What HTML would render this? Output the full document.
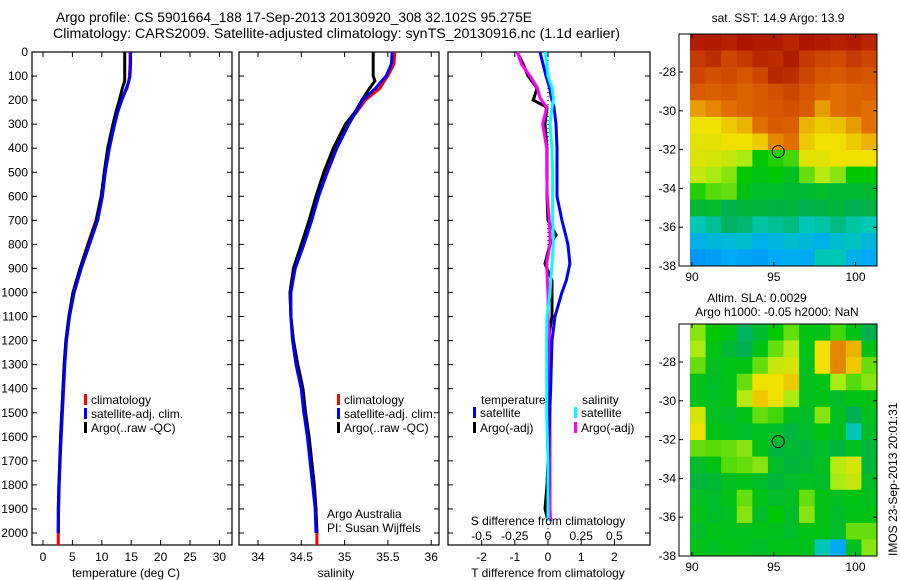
<!DOCTYPE html>
<html><head><meta charset="utf-8"><style>
html,body{margin:0;padding:0;background:#fff;}
svg{display:block;font-family:"Liberation Sans",Arial,sans-serif;}
text{font-size:12px;fill:#000;}
text.title{font-size:14px;}
</style></head><body>
<svg id="fig" width="900" height="580" viewBox="0 0 900 580" xmlns="http://www.w3.org/2000/svg">
<text class="title" x="56" y="22" textLength="476" lengthAdjust="spacingAndGlyphs">Argo profile: CS 5901664_188 17-Sep-2013 20130920_308 32.102S 95.275E</text>
<text class="title" x="53" y="38" textLength="567" lengthAdjust="spacingAndGlyphs">Climatology: CARS2009. Satellite-adjusted climatology: synTS_20130916.nc (1.1d earlier)</text>
<g id="g1"></g>
<g id="g2"></g>
<g id="g3"></g>
<g id="g4"></g>
<g id="g5"></g>
<text transform="translate(897,556) rotate(-90)">IMOS 23-Sep-2013 20:01:31</text>
</svg>
<script>
// ---- data ----
const depthTicks=[0,100,200,300,400,500,600,700,800,900,1000,1100,1200,1300,1400,1500,1600,1700,1800,1900,2000];
const tempTicks=[0,5,10,15,20,25,30];
const salTicks=[34,34.5,35,35.5,36];
const tdiffTicks=[-2,-1,0,1,2];
const sdiffTicks=[-0.5,-0.25,0,0.25,0.5];
const sdiffLabels=["-0.5","-0.25","0","0.25","0.5"];
const depths=[0,50,100,120,150,200,250,300,400,500,600,700,800,900,1000,1100,1200,1300,1400,1500,1600,1700,1800,1900,2000];
const tempArgo=[13.9,13.9,13.9,13.9,13.5,13.0,12.4,11.9,11.0,10.4,9.9,9.1,7.7,6.3,5.1,4.4,3.9,3.6,3.4,3.2,3.0,2.85,2.7,2.6,2.6];
const tempClim=[14.8,14.8,14.7,14.6,14.3,13.3,12.5,12.0,11.1,10.5,9.9,9.0,7.6,6.3,5.1,4.4,3.9,3.6,3.4,3.2,3.0,2.85,2.7,2.6,2.6];
const tempSat=[14.9,14.9,14.8,14.6,14.2,13.4,12.7,12.2,11.3,10.6,10.1,9.3,7.9,6.5,5.3,4.5,4.0,3.7,3.5,3.3,3.1,2.9,2.75,2.65,2.6];
const salArgo=[35.33,35.33,35.33,35.35,35.29,35.2,35.12,35.01,34.87,34.76,34.67,34.59,34.5,34.41,34.37,34.38,34.41,34.46,34.52,34.55,34.59,34.62,34.65,34.67,34.68];
const salClim=[35.58,35.57,35.5,35.46,35.41,35.24,35.14,35.03,34.89,34.77,34.68,34.6,34.51,34.41,34.37,34.38,34.4,34.44,34.5,34.53,34.58,34.61,34.64,34.66,34.68];
const salSat=[35.55,35.54,35.48,35.43,35.36,35.21,35.13,35.05,34.91,34.8,34.7,34.62,34.53,34.43,34.38,34.38,34.4,34.44,34.5,34.53,34.57,34.6,34.63,34.66,34.67];
const ddepths=[0,50,100,150,190,200,230,300,400,500,600,700,760,800,880,950,1000,1100,1200,1300,1400,1500,1600,1700,1800,1900,1950];
const tdiffSat=[-0.24,-0.15,-0.06,0.05,0.1,0.12,0.18,0.24,0.27,0.27,0.27,0.42,0.53,0.6,0.66,0.55,0.42,0.21,0.12,0.1,0.08,0.05,0.03,0.02,0.02,0.0,0.0];
const tdiffArgo=[-0.93,-0.75,-0.6,-0.33,-0.42,-0.45,-0.03,-0.09,-0.03,-0.03,-0.03,0.0,0.24,0.06,-0.09,0.12,0.12,0.12,0.0,0.0,0.0,0.0,0.0,0.0,-0.03,-0.09,0.0];
const sdiffSat=[-0.02,-0.01,0.0,0.03,0.04,0.04,0.03,0.015,0.03,0.035,0.035,0.035,0.04,0.04,0.03,0.02,0.015,-0.008,-0.01,-0.01,-0.01,-0.01,-0.005,0.0,0.0,0.0,0.0];
const sdiffArgo=[-0.23,-0.2,-0.135,-0.08,-0.06,-0.05,-0.01,-0.04,-0.01,-0.01,-0.005,0.01,0.015,0.015,-0.01,-0.005,0.0,0.0,0.015,0.015,0.015,0.015,0.015,0.015,0.015,0.015,0.02];
const lonTicks=[90,95,100];
const latTicks=[-28,-30,-32,-34,-36,-38];
const argoLon=95.275, argoLat=-32.102;
const sstGrid=[
[0.95,0.95,0.94,0.96,0.95,0.95,0.93,0.96,0.95,0.94,0.95,0.93],
[0.9,0.92,0.88,0.9,0.93,0.92,0.95,0.9,0.88,0.87,0.9,0.88],
[0.88,0.86,0.87,0.85,0.88,0.93,0.92,0.88,0.85,0.84,0.86,0.85],
[0.84,0.83,0.84,0.82,0.84,0.86,0.88,0.85,0.82,0.8,0.82,0.83],
[0.76,0.78,0.8,0.82,0.84,0.85,0.86,0.84,0.76,0.8,0.82,0.8],
[0.7,0.7,0.72,0.74,0.8,0.84,0.83,0.74,0.72,0.73,0.76,0.8],
[0.68,0.68,0.7,0.7,0.72,0.78,0.8,0.72,0.7,0.7,0.72,0.74],
[0.67,0.66,0.64,0.6,0.5,0.52,0.54,0.68,0.68,0.7,0.7,0.7],
[0.64,0.6,0.58,0.5,0.48,0.5,0.47,0.56,0.62,0.58,0.5,0.5],
[0.52,0.55,0.56,0.48,0.46,0.46,0.45,0.45,0.46,0.45,0.45,0.45],
[0.45,0.46,0.42,0.44,0.44,0.43,0.44,0.42,0.43,0.44,0.42,0.43],
[0.3,0.34,0.4,0.38,0.32,0.34,0.36,0.3,0.32,0.36,0.32,0.3],
[0.22,0.24,0.25,0.26,0.22,0.24,0.26,0.24,0.22,0.26,0.28,0.24],
[0.17,0.18,0.2,0.19,0.18,0.2,0.21,0.2,0.3,0.3,0.22,0.2]];
const slaGrid=[
[0.58,0.5,0.48,0.4,0.45,0.5,0.56,0.48,0.48,0.54,0.48,0.42],
[0.6,0.48,0.45,0.42,0.48,0.56,0.62,0.48,0.7,0.78,0.74,0.48],
[0.56,0.47,0.48,0.48,0.56,0.64,0.66,0.47,0.7,0.78,0.72,0.56],
[0.48,0.46,0.48,0.56,0.7,0.7,0.72,0.47,0.48,0.6,0.55,0.58],
[0.48,0.47,0.48,0.62,0.72,0.7,0.6,0.47,0.48,0.46,0.48,0.48],
[0.66,0.47,0.46,0.48,0.56,0.54,0.47,0.46,0.58,0.47,0.42,0.47],
[0.7,0.48,0.47,0.46,0.47,0.46,0.44,0.46,0.48,0.47,0.3,0.46],
[0.56,0.55,0.56,0.58,0.48,0.44,0.45,0.44,0.46,0.44,0.47,0.44],
[0.46,0.48,0.55,0.56,0.58,0.46,0.44,0.45,0.47,0.62,0.66,0.44],
[0.44,0.45,0.47,0.48,0.46,0.44,0.46,0.47,0.46,0.6,0.64,0.46],
[0.47,0.46,0.48,0.56,0.48,0.46,0.47,0.56,0.48,0.47,0.48,0.47],
[0.48,0.46,0.47,0.58,0.46,0.5,0.46,0.58,0.48,0.46,0.48,0.48],
[0.46,0.48,0.47,0.47,0.48,0.47,0.46,0.48,0.48,0.46,0.56,0.56],
[0.48,0.47,0.48,0.47,0.46,0.48,0.48,0.47,0.3,0.2,0.47,0.58]];

// ---- helpers ----
const NS="http://www.w3.org/2000/svg";
function mk(parent,tag,attrs,txt){const e=document.createElementNS(NS,tag);for(const k in attrs)e.setAttribute(k,attrs[k]);if(txt!==undefined)e.textContent=txt;parent.appendChild(e);return e;}
const TOP=52,BOT=545;
const yD=d=>TOP+d*0.2405;

function panelFrame(g,x0,x1,xs,xt,xlbl,ylabels){
  const r=mk(g,'rect',{x:x0,y:TOP,width:x1-x0,height:BOT-TOP,fill:'none',stroke:'#000','stroke-width':1.2});
  
  
  depthTicks.forEach(d=>{
    const y=yD(d);
    mk(g,'line',{x1:x0,x2:x0+5,y1:y,y2:y,stroke:'#000'});
    mk(g,'line',{x1:x1-5,x2:x1,y1:y,y2:y,stroke:'#000'});
    if(ylabels){const t=mk(g,'text',{x:28,y:y+4,'text-anchor':'end'},String(d));
      
      }
  });
  xt.forEach((v,i)=>{
    const x=xs(v);
    mk(g,'line',{x1:x,x2:x,y1:BOT-5,y2:BOT,stroke:'#000'});
    mk(g,'line',{x1:x,x2:x,y1:TOP,y2:TOP+5,stroke:'#000'});
    if(xlbl){const t=mk(g,'text',{x:x,y:561,'text-anchor':'middle'},xlbl[i]);
      
      }
  });
}
function line(g,xs,vals,ds,color,w,name){
  const p=vals.map((v,i)=>xs(v).toFixed(1)+','+yD(ds[i]).toFixed(1)).join(' ');
  const e=mk(g,'polyline',{points:p,fill:'none',stroke:color,'stroke-width':w,'stroke-linejoin':'miter'});
  
  
}
function legend(g,x,y,color,label,name){
  mk(g,'rect',{x:x,y:y-10,width:3,height:11,fill:color});
  const t=mk(g,'text',{x:x+7,y:y},label);
  
  
}

// ---- panel 1: temperature ----
const g1=document.getElementById('g1');
const xT=v=>43+v*5.88;
panelFrame(g1,32,232,xT,tempTicks,tempTicks.map(String),true);
line(g1,xT,tempClim,depths,'#f00',3,'temp-climatology-line');
line(g1,xT,tempArgo,depths,'#000',3,'temp-argo-line');
line(g1,xT,tempSat,depths,'#00f',3,'temp-satellite-line');
mk(g1,'line',{x1:xT(2.6),x2:xT(2.6),y1:yD(2000),y2:BOT,stroke:'#f00','stroke-width':3});
legend(g1,84,404,'#f00','climatology','legend-climatology');
legend(g1,84,418,'#00f','satellite-adj. clim.','legend-satellite-adj');
legend(g1,84,432,'#000','Argo(..raw -QC)','legend-argo');
{const t=mk(g1,'text',{x:126,y:577,'text-anchor':'middle'},'temperature (deg C)');}

// ---- panel 2: salinity ----
const g2=document.getElementById('g2');
const xS=v=>258+(v-34)*86.6;
panelFrame(g2,239,439,xS,salTicks,salTicks.map(String),false);
line(g2,xS,salClim,depths,'#f00',3,'sal-climatology-line');
line(g2,xS,salArgo,depths,'#000',3,'sal-argo-line');
line(g2,xS,salSat,depths,'#00f',3,'sal-satellite-line');
mk(g2,'line',{x1:xS(34.68),x2:xS(34.68),y1:yD(2000),y2:BOT,stroke:'#f00','stroke-width':3});
legend(g2,337,404,'#f00','climatology','legend-climatology');
legend(g2,337,418,'#00f','satellite-adj. clim.','legend-satellite-adj');
legend(g2,337,432,'#000','Argo(..raw -QC)','legend-argo');
{let t=mk(g2,'text',{x:327,y:518},'Argo Australia');
 t=mk(g2,'text',{x:327,y:532},'PI: Susan Wijffels');
 t=mk(g2,'text',{x:336,y:577,'text-anchor':'middle'},'salinity');}

// ---- panel 3: differences ----
const g3=document.getElementById('g3');
const xTd=v=>548+v*33.2;
const xSd=v=>548+v*132.8;
panelFrame(g3,448,650,xTd,tdiffTicks,tdiffTicks.map(String),false);
mk(g3,'line',{x1:xTd(0),x2:xTd(0),y1:TOP,y2:BOT,stroke:'#000','stroke-dasharray':'1,3'});
line(g3,xTd,tdiffArgo,ddepths,'#000',3,'tdiff-argo-line');
line(g3,xSd,sdiffArgo,ddepths,'#f0f',3,'sdiff-argo-line');
line(g3,xTd,tdiffSat,ddepths,'#00f',3,'tdiff-satellite-line');
line(g3,xSd,sdiffSat,ddepths,'#0ff',3,'sdiff-satellite-line');
sdiffTicks.forEach((v,i)=>{const t=mk(g3,'text',{x:xSd(v),y:540,'text-anchor':'middle'},sdiffLabels[i]);
  
  });
{let t=mk(g3,'text',{x:548,y:525,'text-anchor':'middle'},'S difference from climatology');
 t=mk(g3,'text',{x:548,y:577,'text-anchor':'middle'},'T difference from climatology');
 t=mk(g3,'text',{x:481,y:404},'temperature');
 t=mk(g3,'text',{x:582,y:404},'salinity');}
legend(g3,473,417,'#00f','satellite','legend-t-satellite');
legend(g3,473,432,'#000','Argo(-adj)','legend-t-argo');
legend(g3,574,417,'#0ff','satellite','legend-s-satellite');
legend(g3,574,432,'#f0f','Argo(-adj)','legend-s-argo');

// ---- maps ----
const stops=[[0.1,[0,110,240]],[0.2,[0,170,245]],[0.3,[0,200,180]],[0.42,[0,175,80]],[0.5,[0,200,0]],[0.6,[170,235,20]],[0.7,[240,225,0]],[0.8,[225,110,0]],[0.88,[205,70,0]],[0.96,[172,22,0]]];
function cmap(v){
  if(v<=stops[0][0])return stops[0][1];
  for(let i=1;i<stops.length;i++){if(v<=stops[i][0]){const a=stops[i-1],b=stops[i],f=(v-a[0])/(b[0]-a[0]);return a[1].map((c,k)=>Math.round(c+(b[1][k]-c)*f));}}
  return stops[stops.length-1][1];
}
function drawMap(g,top,grid){
  const L=679,R=877,IL=690,B=top+232;
  const lonX=v=>692+(v-90)*16.35;
  const latY=v=>top+38+(-28-v)*19.4;
  const rows=grid.length,cols=grid[0].length,cw=(R-IL)/cols,ch=(B-top)/rows;
  grid.forEach((row,r)=>row.forEach((v,c)=>{
    const col=cmap(v);
    const e=mk(g,'rect',{x:(IL+c*cw).toFixed(2),y:(top+r*ch).toFixed(2),width:(cw+0.4).toFixed(2),height:(ch+0.4).toFixed(2),fill:'rgb('+col.join(',')+')'});
    
    
  }));
  const fr=mk(g,'rect',{x:L,y:top,width:R-L,height:B-top,fill:'none',stroke:'#000'});
  
  
  latTicks.forEach(v=>{const y=latY(v);
    mk(g,'line',{x1:L,x2:L+4,y1:y,y2:y,stroke:'#000'});
    mk(g,'line',{x1:R-4,x2:R,y1:y,y2:y,stroke:'#000'});
    const t=mk(g,'text',{x:676,y:y+4,'text-anchor':'end'},String(v));
    
    });
  lonTicks.forEach(v=>{const x=lonX(v);
    mk(g,'line',{x1:x,x2:x,y1:B-4,y2:B,stroke:'#000'});
    mk(g,'line',{x1:x,x2:x,y1:top,y2:top+4,stroke:'#000'});
    const t=mk(g,'text',{x:x,y:B+15,'text-anchor':'middle'},String(v));
    
    });
  const c=mk(g,'circle',{cx:lonX(argoLon),cy:latY(argoLat),r:6,fill:'none',stroke:'#000'});
  
  
}
const g4=document.getElementById('g4');
drawMap(g4,34,sstGrid);
{const t=mk(g4,'text',{x:778,y:22,'text-anchor':'middle'},'sat. SST: 14.9 Argo: 13.9');}
const g5=document.getElementById('g5');
drawMap(g5,324,slaGrid);
{let t=mk(g5,'text',{x:757,y:302,'text-anchor':'middle'},'Altim. SLA: 0.0029');
 t=mk(g5,'text',{x:777,y:316,'text-anchor':'middle'},'Argo h1000: -0.05 h2000: NaN');}
</script>
</body></html>
